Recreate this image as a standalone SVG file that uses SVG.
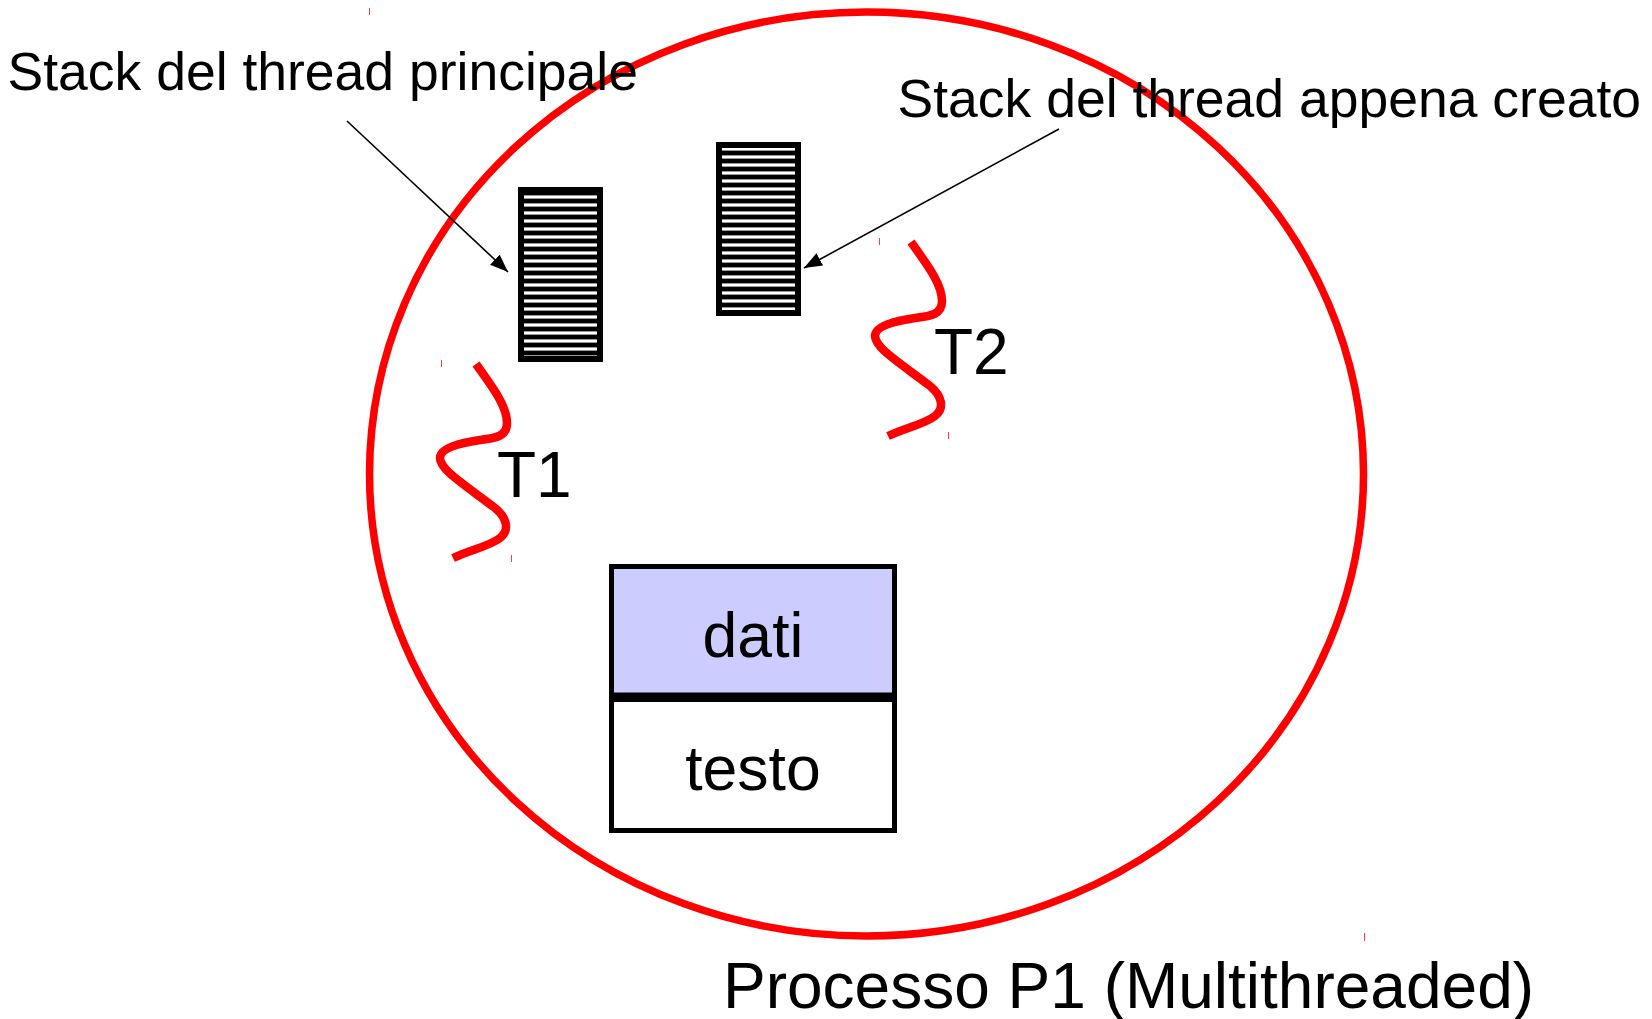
<svg xmlns="http://www.w3.org/2000/svg" width="1652" height="1019" viewBox="0 0 1652 1019">
  <style>
    text { font-family: "Liberation Sans", Arial, sans-serif; fill: #000; }
    .lbl { font-size: 53.5px; }
    .big { font-size: 64px; }
    .box { font-size: 62.5px; text-anchor: middle; }
    .thread { fill: none; stroke: #ff0000; stroke-width: 8.5; stroke-linecap: butt; }
    .stack { fill: url(#stripes); stroke: #000; stroke-width: 6; }
    .seg { stroke: #000; stroke-width: 5; }
    .conn { stroke: #000; stroke-width: 1.6; fill: none; marker-end: url(#arrow); }
    .tick { stroke: #ff0000; stroke-width: 1; opacity: 0.75; }
  </style>
  <defs>
    <pattern id="stripes" patternUnits="userSpaceOnUse" x="0" y="3" width="20" height="8">
      <rect x="0" y="0" width="20" height="8" fill="#000"/>
      <rect x="0" y="0" width="20" height="1" fill="#999"/>
      <rect x="0" y="1" width="20" height="2.6" fill="#fff"/>
    </pattern>
    <marker id="arrow" markerUnits="userSpaceOnUse" markerWidth="20" markerHeight="16" refX="18" refY="7" orient="auto">
      <path d="M0,0 L18,7 L0,14 Z" fill="#000"/>
    </marker>
  </defs>

  <rect width="1652" height="1019" fill="#fff"/>

  <g id="process">
    <ellipse cx="866.5" cy="474" rx="497" ry="462" fill="none" stroke="#ff0000" stroke-width="7.5"/>
    <line class="tick" x1="369.5" y1="8" x2="369.5" y2="15"/>
    <line class="tick" x1="1364.5" y1="933" x2="1364.5" y2="941"/>
    <text class="big" x="723" y="1008">Processo P1 (Multithreaded)</text>
  </g>

  <g id="stack-main">
    <rect class="stack" x="521" y="190" width="79" height="169"/>
  </g>

  <g id="stack-new">
    <rect class="stack" x="719" y="145" width="79" height="168"/>
  </g>

  <g id="thread-T1">
    <path class="thread" d="M476,364 C490,384 507,405 507,423 C507,436 497,438 480,440 C460,443 440,448 440,458 C440,470 465,485 495,508 C507,518 510,530 500,538 C490,546 470,550 453,558"/>
    <line class="tick" x1="441.5" y1="360" x2="441.5" y2="367"/>
    <line class="tick" x1="511.5" y1="555" x2="511.5" y2="562"/>
    <text class="big" x="497" y="497">T1</text>
  </g>

  <g id="thread-T2">
    <path class="thread" transform="translate(435,-122)" d="M476,364 C490,384 507,405 507,423 C507,436 497,438 480,440 C460,443 440,448 440,458 C440,470 465,485 495,508 C507,518 510,530 500,538 C490,546 470,550 453,558"/>
    <line class="tick" x1="879.5" y1="238" x2="879.5" y2="245"/>
    <line class="tick" x1="948.5" y1="432" x2="948.5" y2="439"/>
    <text class="big" x="934" y="374">T2</text>
  </g>

  <g id="memory">
    <g id="dati">
      <rect class="seg" x="611.5" y="566.5" width="283" height="128.5" fill="#ccccff"/>
      <text class="box" x="753" y="657">dati</text>
    </g>
    <g id="testo">
      <rect class="seg" x="611.5" y="699.5" width="283" height="131" fill="#fff"/>
      <text class="box" x="753" y="790">testo</text>
    </g>
  </g>

  <g id="label-main">
    <text class="lbl" x="7.5" y="90">Stack del thread principale</text>
  </g>
  <g id="label-new">
    <text class="lbl" x="897.5" y="117">Stack del thread appena creato</text>
  </g>

  <g id="connectors">
    <line class="conn" x1="347" y1="121" x2="508" y2="272"/>
    <line class="conn" x1="1059" y1="129" x2="804" y2="268"/>
  </g>
</svg>
